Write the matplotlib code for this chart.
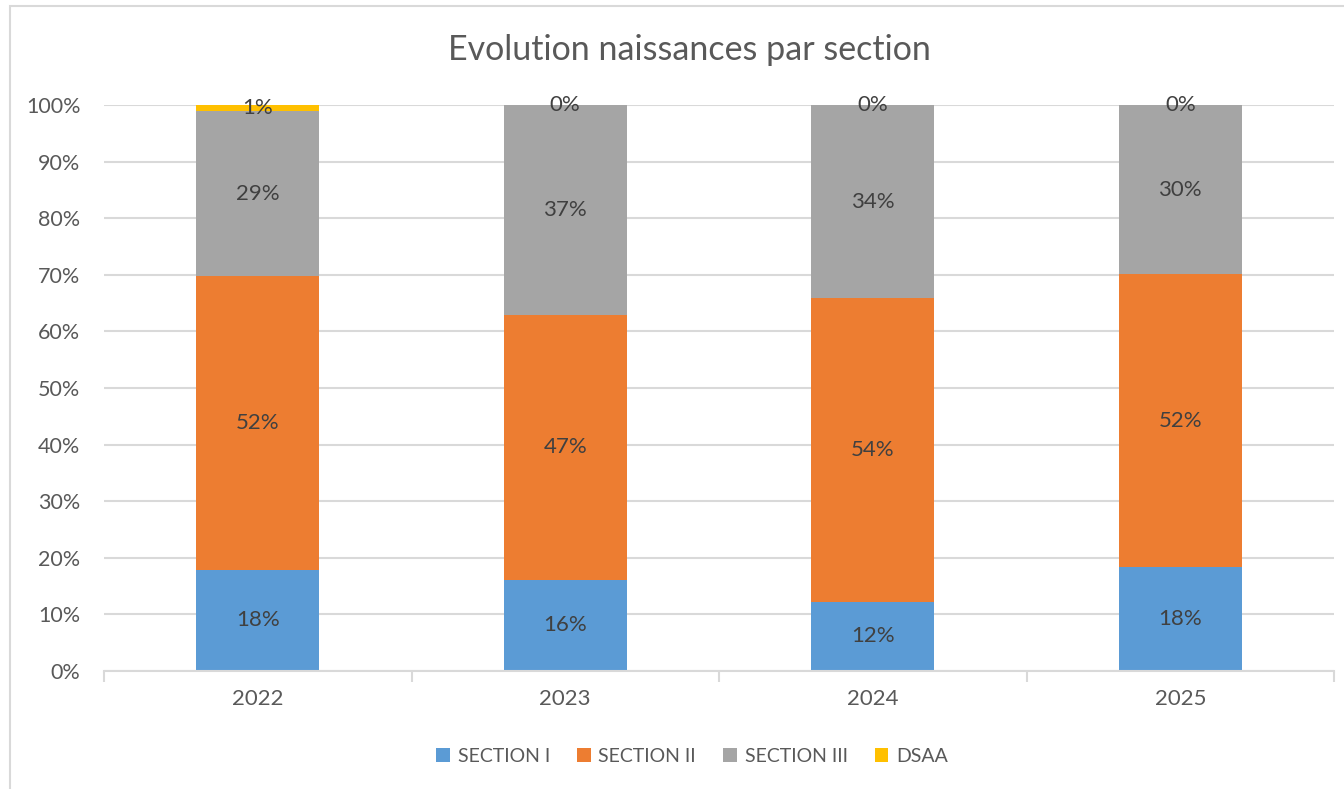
import matplotlib.pyplot as plt
from matplotlib.patches import Rectangle
import numpy as np

years = ["2022", "2023", "2024", "2025"]
section_1 = [17.9, 16.1, 12.2, 18.4]
section_2 = [51.9, 46.8, 53.7, 51.7]
section_3 = [29.1, 37.1, 34.1, 29.9]
dsaa = [1.1, 0.0, 0.0, 0.0]

series = [
    ("SECTION I", section_1, "#5b9bd5"),
    ("SECTION II", section_2, "#ed7d31"),
    ("SECTION III", section_3, "#a5a5a5"),
    ("DSAA", dsaa, "#ffc000"),
]

plt.rcParams["font.family"] = ["Lato", "DejaVu Sans"]
txt = "#595959"

fig = plt.figure(figsize=(13.44, 7.89), dpi=100)
ax = fig.add_axes([104 / 1344, 1 - 671 / 789, 1230 / 1344, 566 / 789])

# cadre du graphique
fig.patches.append(Rectangle((10 / 1344, -0.1), 1.2, 1 - 6 / 789 + 0.1,
                             transform=fig.transFigure, fill=False,
                             edgecolor="#d9d9d9", linewidth=1.5))

x = np.arange(len(years))
bottom = np.zeros(len(years))
for name, vals, color in series:
    vals = np.array(vals)
    ax.bar(x, vals, 0.4, bottom=bottom, color=color, label=name, zorder=2)
    for xi, b, v in zip(x, bottom, vals):
        ax.text(xi, b + v / 2, f"{v:.0f}%", ha="center", va="center",
                fontsize=16, color="#404040", zorder=3)
    bottom += vals

ax.set_xlim(-0.5, len(years) - 0.5)
ax.set_ylim(0, 100)
ax.set_yticks(range(0, 101, 10))
ax.set_yticklabels([f"{v}%" for v in range(0, 101, 10)])
ax.set_xticks(x)
ax.set_xticklabels(years)
ax.set_xticks(np.arange(-0.5, len(years)), minor=True)
ax.tick_params(axis="x", which="major", length=0, pad=13, labelsize=16, labelcolor=txt)
ax.tick_params(axis="x", which="minor", length=8, width=1.5, color="#d9d9d9")
ax.tick_params(axis="y", length=0, pad=17, labelsize=15.5, labelcolor=txt)
ax.grid(axis="y", color="#d9d9d9", linewidth=1.5, zorder=0)
for s in ["top", "right", "left"]:
    ax.spines[s].set_visible(False)
ax.spines["bottom"].set_color("#d9d9d9")
ax.spines["bottom"].set_linewidth(1.5)

fig.text(0.513, 1 - 50 / 789, "Evolution naissances par section", ha="center",
         va="center", fontsize=24.5, color=txt)

fig.legend(loc="center", bbox_to_anchor=(0.515, 1 - 756 / 789), ncol=4,
           frameon=False, fontsize=14, labelcolor=txt, handlelength=0.7,
           handleheight=0.7, handletextpad=0.4, columnspacing=1.4)

fig.savefig("out.png", dpi=100)
plt.close(fig)
